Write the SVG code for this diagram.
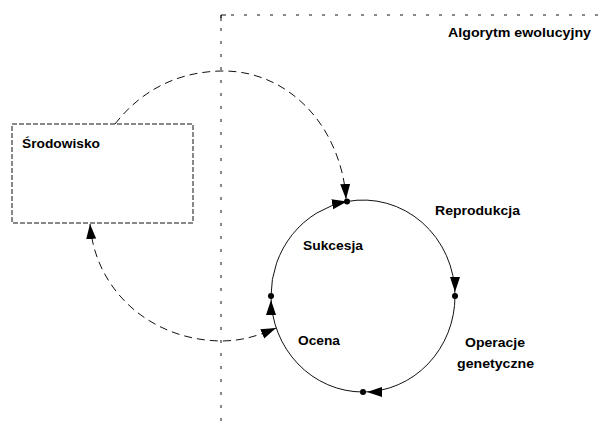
<svg xmlns="http://www.w3.org/2000/svg" width="606" height="421" viewBox="0 0 606 421">
<style>
  .lbl { font-family: "Liberation Sans", Arial, sans-serif; font-size: 13.5px; font-weight: bold; fill: #000; }
  .bound { fill: none; stroke: #111; stroke-width: 1; stroke-dasharray: 3 10; }
  .box { fill: #fff; stroke: #111; stroke-width: 1; stroke-dasharray: 5 2; }
  .flow { fill: none; stroke: #111; stroke-width: 1; stroke-dasharray: 8 5; }
  .arc { fill: none; stroke: #111; stroke-width: 1; }
  .dot { fill: #000; }
</style>
<defs>
  <marker id="ah" markerUnits="userSpaceOnUse" markerWidth="20" markerHeight="12" refX="15" refY="5" orient="auto-start-reverse" viewBox="0 0 20 12">
    <path d="M0,0 L15,5 L0,10 z" fill="#000"/>
  </marker>
  <marker id="ah2" markerUnits="userSpaceOnUse" markerWidth="24" markerHeight="12" refX="19" refY="5" orient="auto" viewBox="0 0 24 12">
    <path d="M0,0 L15,5 L0,10 z" fill="#000"/>
  </marker>
</defs>
<rect width="606" height="421" fill="#fff"/>

<g id="boundary">
  <path class="bound" d="M221,421 L221,15 L606,15"/>
  <path d="M221,21 L221,15 L226,15" fill="none" stroke="#111" stroke-width="1"/>
  <text class="lbl" x="448" y="37" textLength="143" lengthAdjust="spacingAndGlyphs">Algorytm ewolucyjny</text>
</g>

<g id="srodowisko">
  <rect class="box" x="12" y="124" width="181" height="99"/>
  <text class="lbl" x="22" y="148" textLength="78" lengthAdjust="spacingAndGlyphs">Środowisko</text>
</g>

<g id="cycle">
  <circle class="dot" cx="347" cy="201.5" r="3"/>
  <circle class="dot" cx="455" cy="296" r="3"/>
  <circle class="dot" cx="363" cy="392" r="3"/>
  <circle class="dot" cx="271" cy="296" r="3"/>
</g>

<g id="labels">
  <text class="lbl" x="435" y="215" textLength="85" lengthAdjust="spacingAndGlyphs">Reprodukcja</text>
  <text class="lbl" x="303" y="250" textLength="60" lengthAdjust="spacingAndGlyphs">Sukcesja</text>
  <text class="lbl" x="298" y="345" textLength="42" lengthAdjust="spacingAndGlyphs">Ocena</text>
  <text class="lbl" x="465" y="347" textLength="60" lengthAdjust="spacingAndGlyphs">Operacje</text>
  <text class="lbl" x="457" y="368" textLength="77" lengthAdjust="spacingAndGlyphs">genetyczne</text>
</g>

<g id="connectors">
  <path class="arc" d="M271,296 A92,96 0 0,1 347,201.5" marker-end="url(#ah)"/>
  <path class="arc" d="M347,201.5 A92,96 0 0,1 455,296" marker-end="url(#ah2)"/>
  <path class="arc" d="M455,296 A92,96 0 0,1 363,392" marker-end="url(#ah2)"/>
  <path class="arc" d="M363,392 A92,96 0 0,1 271,296" marker-end="url(#ah2)"/>
  <path class="flow" d="M115,124 C140,92 175,72 221,71 C270,70 310,100 330,140 C340,160 345,180 346,199" marker-end="url(#ah)"/>
  <path class="flow" d="M90,224 C95,290 150,340 221,341 C245,341 262,334 276,328" marker-start="url(#ah)" marker-end="url(#ah)"/>
</g>
</svg>
